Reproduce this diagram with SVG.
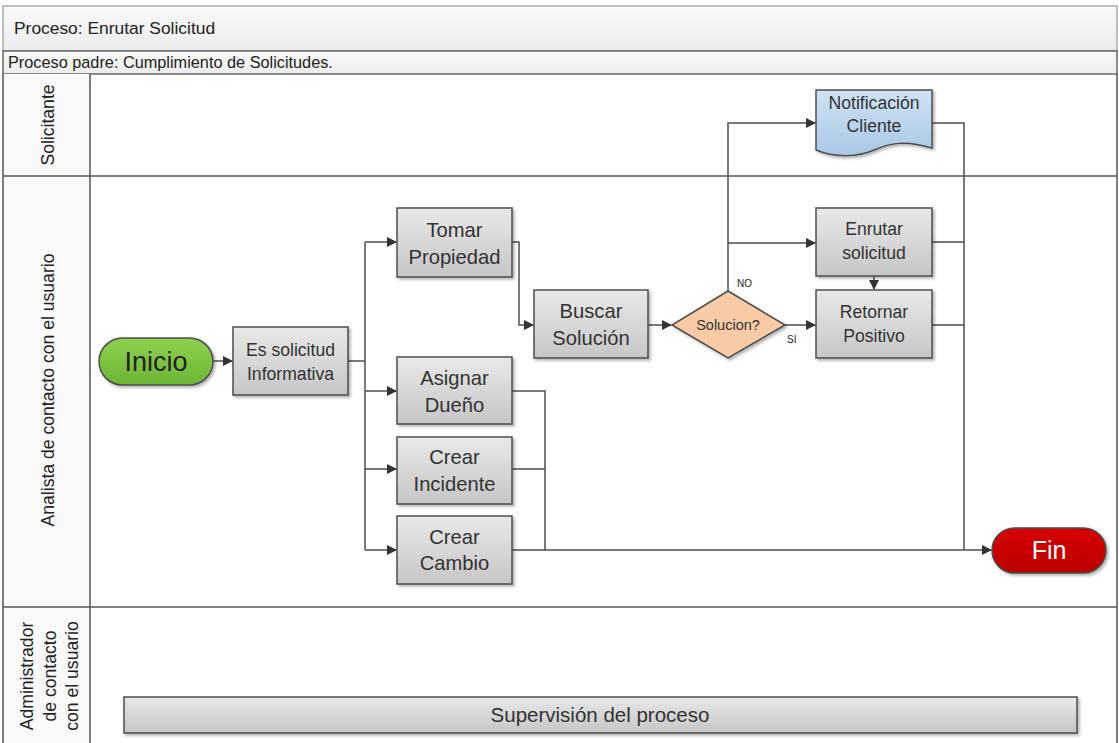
<svg xmlns="http://www.w3.org/2000/svg" width="1119" height="743" viewBox="0 0 1119 743">
<style>
.t{font-family:"Liberation Sans",Arial,sans-serif;fill:#222}
.box{stroke:#4d4d4d;stroke-width:1.5;fill:url(#gg)}
.ln{stroke:#4d4d4d;stroke-width:1.5;fill:none}
.lane{stroke:#555;stroke-width:1.5;fill:none}
.bt{font-family:"Liberation Sans",Arial,sans-serif;font-size:20.2px;fill:#333;text-anchor:middle}
.sm{font-size:17.6px}
.lt{font-family:"Liberation Sans",Arial,sans-serif;font-size:17.6px;fill:#222;text-anchor:middle}
</style>
<defs>
<linearGradient id="gg" x1="0" y1="0" x2="0" y2="1"><stop offset="0" stop-color="#e8e8e8"/><stop offset="1" stop-color="#c6c6c6"/></linearGradient>
<linearGradient id="hg" x1="0" y1="0" x2="0" y2="1"><stop offset="0" stop-color="#fafafa"/><stop offset="1" stop-color="#ececec"/></linearGradient>
<linearGradient id="gr" x1="0" y1="0" x2="0" y2="1"><stop offset="0" stop-color="#8fd150"/><stop offset="1" stop-color="#6db535"/></linearGradient>
<linearGradient id="rd" x1="0" y1="0" x2="0" y2="1"><stop offset="0" stop-color="#d80000"/><stop offset="1" stop-color="#b80000"/></linearGradient>
<linearGradient id="bl" x1="0" y1="0" x2="0" y2="1"><stop offset="0" stop-color="#cfe2f3"/><stop offset="1" stop-color="#a9c8e6"/></linearGradient>
<filter id="sh" x="-10%" y="-10%" width="130%" height="130%"><feDropShadow dx="2" dy="2" stdDeviation="1.5" flood-color="#000" flood-opacity="0.3"/></filter>
<marker id="ar" markerWidth="10" markerHeight="10" refX="9" refY="5" orient="auto" markerUnits="userSpaceOnUse"><path d="M0,0 L10,5 L0,10 z" fill="#333"/></marker>
</defs>
<rect width="1119" height="743" fill="#fff"/>
<g id="frame">
<rect x="3" y="6" width="1114" height="45" fill="url(#hg)" stroke="#aaa" stroke-width="1.5"/>
<rect x="3" y="51" width="1114" height="23" fill="url(#hg)" stroke="#666" stroke-width="1.5"/>
<text class="t" x="14" y="34" font-size="17.4">Proceso: Enrutar Solicitud</text>
<text class="t" x="8" y="68" font-size="16.3">Proceso padre: Cumplimiento de Solicitudes.</text>
<rect x="3" y="74" width="87" height="669" fill="#f9f9f9"/>
<line class="lane" x1="3" y1="74" x2="3" y2="743"/>
<line class="lane" x1="90" y1="74" x2="90" y2="743"/>
<line class="lane" x1="1117" y1="74" x2="1117" y2="743"/>
<line class="lane" x1="3" y1="176" x2="1117" y2="176"/>
<line class="lane" x1="3" y1="607" x2="1117" y2="607"/>
</g>
<g id="lane-solicitante"><text class="lt" transform="translate(54,125) rotate(-90)">Solicitante</text></g>
<g id="lane-analista"><text class="lt" transform="translate(54,390) rotate(-90)">Analista de contacto con el usuario</text></g>
<g id="lane-admin"><text class="lt" transform="translate(0,676) rotate(-90)"><tspan x="0" y="33">Administrador</tspan><tspan x="0" y="56">de contacto</tspan><tspan x="0" y="78">con el usuario</tspan></text></g>

<g id="connectors">
<line class="ln" x1="213" y1="361" x2="232" y2="361" marker-end="url(#ar)"/>
<polyline class="ln" points="348,361 365,361"/>
<line class="ln" x1="365" y1="242" x2="365" y2="550"/>
<line class="ln" x1="365" y1="242" x2="396" y2="242" marker-end="url(#ar)"/>
<line class="ln" x1="365" y1="391" x2="396" y2="391" marker-end="url(#ar)"/>
<line class="ln" x1="365" y1="469" x2="396" y2="469" marker-end="url(#ar)"/>
<line class="ln" x1="365" y1="550" x2="396" y2="550" marker-end="url(#ar)"/>
<polyline class="ln" points="512,242 519,242 519,325 533,325" marker-end="url(#ar)"/>
<line class="ln" x1="648" y1="325" x2="671" y2="325" marker-end="url(#ar)"/>
<polyline class="ln" points="728,291 728,123 815,123" marker-end="url(#ar)"/>
<line class="ln" x1="728" y1="243" x2="815" y2="243" marker-end="url(#ar)"/>
<line class="ln" x1="785" y1="325" x2="815" y2="325" marker-end="url(#ar)"/>
<line class="ln" x1="874" y1="276" x2="874" y2="289" marker-end="url(#ar)"/>
<polyline class="ln" points="932,123 964,123 964,550"/>
<line class="ln" x1="932" y1="242" x2="964" y2="242"/>
<line class="ln" x1="932" y1="325" x2="964" y2="325"/>
<polyline class="ln" points="512,391 545,391 545,550"/>
<line class="ln" x1="512" y1="469" x2="545" y2="469"/>
<line class="ln" x1="512" y1="550" x2="991" y2="550" marker-end="url(#ar)"/>
<text class="t" x="737" y="287" font-size="10">NO</text>
<text class="t" x="787" y="343" font-size="10">SI</text>
</g>

<g id="inicio"><rect x="99" y="338" width="114" height="47" rx="23.5" fill="url(#gr)" stroke="#4d4d4d" stroke-width="1.5" filter="url(#sh)"/><text class="t" x="156" y="371" font-size="27" text-anchor="middle">Inicio</text></g>
<g id="es-solicitud"><rect class="box" x="233" y="327" width="115" height="68" filter="url(#sh)"/><text class="bt sm" x="290.5" y="356">Es solicitud</text><text class="bt sm" x="290.5" y="380">Informativa</text></g>
<g id="tomar"><rect class="box" x="397" y="208" width="115" height="69" filter="url(#sh)"/><text class="bt" x="454.5" y="237">Tomar</text><text class="bt" x="454.5" y="264">Propiedad</text></g>
<g id="asignar"><rect class="box" x="397" y="357" width="115" height="67" filter="url(#sh)"/><text class="bt" x="454.5" y="385">Asignar</text><text class="bt" x="454.5" y="412">Dueño</text></g>
<g id="incidente"><rect class="box" x="397" y="437" width="115" height="67" filter="url(#sh)"/><text class="bt" x="454.5" y="464">Crear</text><text class="bt" x="454.5" y="491">Incidente</text></g>
<g id="cambio"><rect class="box" x="397" y="516" width="115" height="68" filter="url(#sh)"/><text class="bt" x="454.5" y="544">Crear</text><text class="bt" x="454.5" y="570">Cambio</text></g>
<g id="buscar"><rect class="box" x="534" y="290" width="114" height="68" filter="url(#sh)"/><text class="bt" x="591" y="318">Buscar</text><text class="bt" x="591" y="345">Solución</text></g>
<g id="solucion"><polygon points="728,291 785,325 728,358 672,325" fill="#f8cba6" stroke="#4d4d4d" stroke-width="1.5" filter="url(#sh)"/><text class="bt" x="728" y="330" style="font-size:14.5px">Solucion?</text></g>
<g id="notificacion"><path d="M816,90 H932 V148 C905,140 890,143 874,150 C858,157 835,158 816,150 Z" fill="url(#bl)" stroke="#4d4d4d" stroke-width="1.5" filter="url(#sh)"/><text class="bt sm" x="874" y="109">Notificación</text><text class="bt sm" x="874" y="132">Cliente</text></g>
<g id="enrutar"><rect class="box" x="816" y="208" width="116" height="68" filter="url(#sh)"/><text class="bt sm" x="874" y="235">Enrutar</text><text class="bt sm" x="874" y="259">solicitud</text></g>
<g id="retornar"><rect class="box" x="816" y="290" width="116" height="68" filter="url(#sh)"/><text class="bt sm" x="874" y="318">Retornar</text><text class="bt sm" x="874" y="342">Positivo</text></g>
<g id="fin"><rect x="992" y="528" width="114" height="45" rx="22.5" fill="url(#rd)" stroke="#4d4d4d" stroke-width="1.5" filter="url(#sh)"/><text class="t" x="1049" y="559" font-size="25" text-anchor="middle" style="fill:#fff">Fin</text></g>
<g id="supervision"><rect class="box" x="124" y="697" width="953" height="36" filter="url(#sh)"/><text class="bt" x="600" y="722" style="font-size:20.5px">Supervisión del proceso</text></g>
</svg>
